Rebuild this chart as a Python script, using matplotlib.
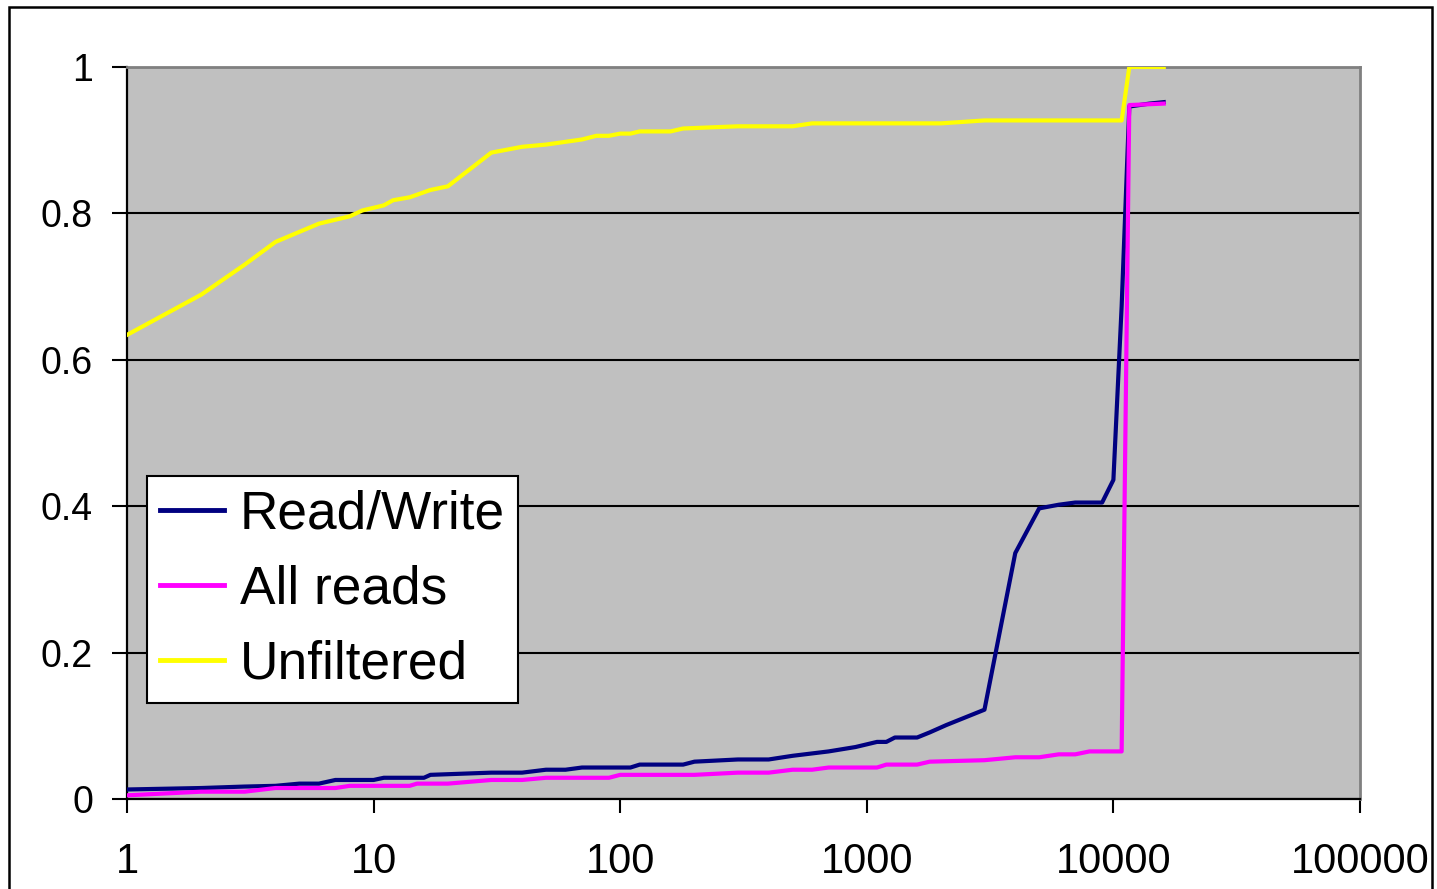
import matplotlib.pyplot as plt
from matplotlib.patches import Rectangle

plt.rcParams['font.family'] = ['Liberation Sans', 'DejaVu Sans']

# Read/Write curve
rw_x = [1, 2, 3, 4, 5, 6, 7, 10, 11, 16, 17, 30, 40, 50, 60, 70, 110, 120, 180, 200,
        300, 400, 500, 700, 900, 1100, 1200, 1300, 1600, 1800, 2100, 3000, 4000, 5000,
        6000, 7000, 9000, 10000, 10800, 11600, 14000, 16000]
rw_y = [0.013, 0.015, 0.017, 0.018, 0.021, 0.021, 0.026, 0.026, 0.029, 0.029, 0.033,
        0.036, 0.036, 0.040, 0.040, 0.043, 0.043, 0.047, 0.047, 0.051, 0.054, 0.054,
        0.059, 0.065, 0.071, 0.078, 0.078, 0.084, 0.084, 0.091, 0.101, 0.122, 0.336,
        0.397, 0.402, 0.405, 0.405, 0.436, 0.673, 0.946, 0.950, 0.952]

# All reads curve
ar_x = [1, 2, 3, 4, 7, 8, 14, 15, 20, 30, 40, 50, 90, 100, 200, 300, 400, 500, 600,
        700, 1100, 1200, 1600, 1800, 3000, 4000, 5000, 6000, 7000, 8000, 10800, 11600,
        16000]
ar_y = [0.005, 0.010, 0.010, 0.015, 0.015, 0.018, 0.018, 0.021, 0.021, 0.026, 0.026,
        0.029, 0.029, 0.033, 0.033, 0.036, 0.036, 0.040, 0.040, 0.043, 0.043, 0.047,
        0.047, 0.051, 0.053, 0.057, 0.057, 0.061, 0.061, 0.065, 0.065, 0.948, 0.950]

# Unfiltered curve
uf_x = [1, 2, 3, 4, 6, 8, 9, 11, 12, 14, 17, 20, 30, 40, 50, 70, 80, 90, 100, 110, 120,
        160, 180, 300, 500, 600, 2000, 3000, 10800, 11600, 16000]
uf_y = [0.634, 0.689, 0.730, 0.761, 0.786, 0.796, 0.804, 0.811, 0.818, 0.822, 0.832,
        0.837, 0.883, 0.891, 0.894, 0.901, 0.906, 0.906, 0.909, 0.909, 0.912, 0.912,
        0.916, 0.919, 0.919, 0.923, 0.923, 0.927, 0.927, 1.0, 1.0]

x_ticks = [1, 10, 100, 1000, 10000, 100000]
x_labels = ['1', '10', '100', '1000', '10000', '100000']
y_ticks = [0, 0.2, 0.4, 0.6, 0.8, 1]
y_labels = ['0', '0.2', '0.4', '0.6', '0.8', '1']

fig = plt.figure(figsize=(14.37, 8.89), dpi=100)
ax = fig.add_axes([127 / 1437, 90 / 889, 1233 / 1437, 732 / 889])
ax.set_facecolor('#C0C0C0')

ax.plot(rw_x, rw_y, color='#000080', lw=3, label='Read/Write', zorder=3)
ax.plot(ar_x, ar_y, color='#FF00FF', lw=3, label='All reads', zorder=3)
ax.plot(uf_x, uf_y, color='#FFFF00', lw=3, label='Unfiltered', zorder=3)

ax.set_xscale('log')
ax.set_xlim(1, 100000)
ax.set_ylim(0, 1)
ax.set_xticks(x_ticks)
ax.set_xticklabels(x_labels)
ax.minorticks_off()
ax.set_yticks(y_ticks)
ax.set_yticklabels(y_labels)
ax.yaxis.grid(True, color='black', lw=1.5)
ax.set_axisbelow(True)

ax.tick_params(axis='x', direction='out', length=10, width=1.5, pad=21, labelsize=30)
ax.tick_params(axis='y', direction='out', length=10.5, width=1.5, pad=14, labelsize=27)

ax.spines['left'].set_linewidth(1.6)
ax.spines['bottom'].set_linewidth(1.6)
ax.spines['top'].set_color('#808080')
ax.spines['right'].set_color('#808080')
ax.spines['top'].set_linewidth(2)
ax.spines['right'].set_linewidth(2)

leg = ax.legend(loc='upper left', bbox_to_anchor=(0.0162, 0.441), fontsize=38.3,
                frameon=True, fancybox=False, edgecolor='black', framealpha=1,
                handlelength=1.2, handletextpad=0.3, labelspacing=0.47,
                borderpad=0.25, borderaxespad=0)
leg.get_frame().set_linewidth(1.5)
for h in leg.get_lines():
    h.set_linewidth(3.5)

# outer chart border
fig.patches.append(Rectangle((9 / 1437, -0.05), 1423 / 1437, 1 - 7 / 889 + 0.05,
                             transform=fig.transFigure, fill=False,
                             edgecolor='black', lw=1.8))

fig.savefig('out.png', dpi=100)
